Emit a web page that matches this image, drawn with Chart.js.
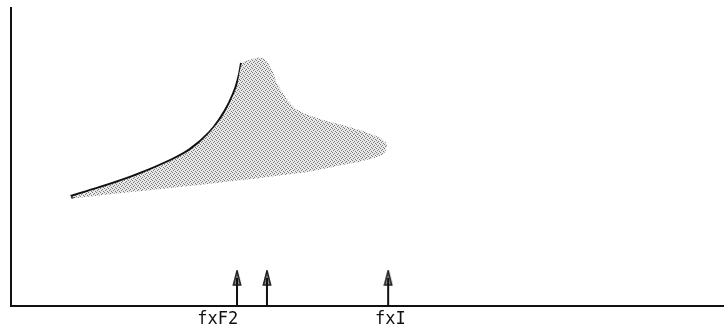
<!DOCTYPE html>
<html>
<head>
<meta charset="utf-8">
<script src="https://cdn.jsdelivr.net/npm/chart.js@4.4.1/dist/chart.umd.min.js"></script>
<style>
  html, body { margin: 0; padding: 0; background: #fff; }
  #wrap { width: 724px; height: 332px; }
</style>
</head>
<body>
<div id="wrap"><canvas id="spectrumChart"></canvas></div>
<script>
// the dark edge curve (arbitrary units, 0-100 on both axes)
const curveX = [8.4, 12.5, 16.7, 20.9, 25.1, 27.9, 29.3, 30.7, 31.6, 32.1, 32.4];
const curveY = [36.6, 39.6, 43.0, 47.0, 52.3, 58.1, 62.4, 68.1, 73.2, 77.5, 81.5];

// outline of the shaded region, traced clockwise from the lower-left tip
const regionX = [8.4, 16.7, 25.1, 29.3, 31.6, 32.4, 33.5, 35.3, 36.6, 37.3, 38.8, 40.2, 43.8, 47.5, 51.3, 52.7, 52.2, 49.4, 45.0, 40.5, 28.9, 17.1, 9.3];
const regionY = [36.6, 43.0, 52.3, 62.4, 73.2, 81.5, 82.6, 83.2, 79.2, 74.8, 69.1, 65.8, 62.4, 60.1, 57.0, 54.4, 51.0, 48.7, 46.6, 44.6, 41.3, 38.3, 36.2];

// arrows along the frequency axis
const arrowX = [31.7, 35.9, 52.9];
const arrowHead = 9.4;

// labels under the axis
const tickX = [29.0, 53.2];
const tickLabels = ['fxF2', 'fxI'];

document.addEventListener('DOMContentLoaded', function() {
    const ctx = document.getElementById('spectrumChart');

    // stippled gray for the shaded region
    const pc = document.createElement('canvas');
    pc.width = 4; pc.height = 4;
    const p = pc.getContext('2d');
    p.fillStyle = '#e8e8e8';
    p.fillRect(0, 0, 4, 4);
    p.fillStyle = '#7a7a7a';
    [[0,0],[2,1],[1,2],[3,3]].forEach(function(d) { p.fillRect(d[0], d[1], 1, 1); });
    const stipple = ctx.getContext('2d').createPattern(pc, 'repeat');

    // arrow head glyph
    const ah = document.createElement('canvas');
    ah.width = 10; ah.height = 16;
    const a = ah.getContext('2d');
    a.beginPath();
    a.moveTo(5, 0.8); a.lineTo(8.6, 15); a.lineTo(1.4, 15); a.closePath();
    a.fillStyle = '#8f8f8f';
    a.fill();
    a.strokeStyle = '#222';
    a.lineWidth = 1.6;
    a.stroke();

    const toPts = (xs, ys) => xs.map((x, i) => ({ x: x, y: ys[i] }));

    const shafts = [];
    arrowX.forEach(function(x) {
        shafts.push({ x: x, y: 0 }, { x: x, y: arrowHead }, { x: x, y: null });
    });

    new Chart(ctx, {
        type: 'scatter',
        data: {
            datasets: [
                {
                    data: toPts(regionX, regionY),
                    showLine: true,
                    fill: 'shape',
                    backgroundColor: stipple,
                    borderWidth: 0,
                    borderColor: 'rgba(0,0,0,0)',
                    tension: 0.3,
                    pointRadius: 0
                },
                {
                    data: toPts(curveX, curveY),
                    showLine: true,
                    borderColor: '#111',
                    borderWidth: 4,
                    cubicInterpolationMode: 'monotone',
                    pointRadius: 0
                },
                {
                    data: shafts,
                    showLine: true,
                    borderColor: '#111',
                    borderWidth: 2,
                    pointRadius: 0
                },
                {
                    data: arrowX.map(x => ({ x: x, y: arrowHead })),
                    pointStyle: ah,
                    pointRadius: 6
                }
            ]
        },
        options: {
            responsive: true,
            maintainAspectRatio: false,
            animation: false,
            layout: { autoPadding: false, padding: { left: 11, top: 8, right: 0, bottom: 0 } },
            plugins: {
                legend: { display: false },
                tooltip: { enabled: false }
            },
            scales: {
                x: {
                    type: 'linear',
                    min: 0,
                    max: 100,
                    grid: { display: false, drawTicks: false, tickLength: 0 },
                    border: { display: true, color: '#111', width: 2 },
                    afterBuildTicks: function(axis) {
                        axis.ticks = tickX.map(v => ({ value: v }));
                    },
                    afterFit: function(axis) {
                        axis.height = 26;
                        axis.paddingLeft = 0;
                        axis.paddingRight = 0;
                    },
                    ticks: {
                        autoSkip: false,
                        maxRotation: 0,
                        padding: 3,
                        color: '#111',
                        font: { family: 'DejaVu Sans Mono', size: 17 },
                        callback: function(value, index) { return tickLabels[index]; }
                    }
                },
                y: {
                    type: 'linear',
                    min: 0,
                    max: 100,
                    grid: { display: false, drawTicks: false, tickLength: 0 },
                    border: { display: true, color: '#111', width: 2 },
                    afterFit: function(axis) {
                        axis.width = 0;
                        axis.paddingTop = 0;
                        axis.paddingBottom = 0;
                    },
                    ticks: { display: false }
                }
            }
        }
    });
});
</script>
</body>
</html>
